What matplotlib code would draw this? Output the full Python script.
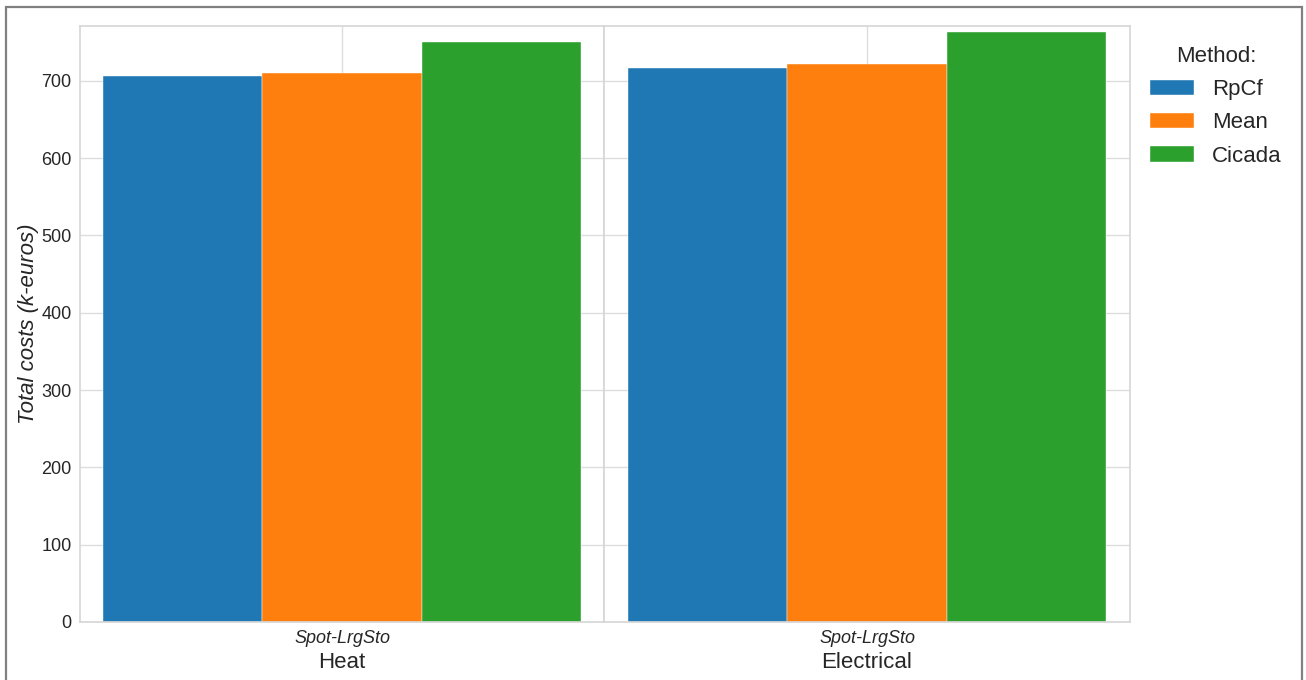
import matplotlib.pyplot as plt
from matplotlib.patches import Rectangle

plt.rcParams['font.family'] = ['Liberation Sans', 'DejaVu Sans']

groups = ['Heat', 'Electrical']
scenario = 'Spot-LrgSto'
methods = ['RpCf', 'Mean', 'Cicada']
colors = ['#1f77b4', '#ff7f0e', '#2ca02c']
costs = {
    'Heat': [706.4, 710.5, 750.3],
    'Electrical': [716.8, 722.0, 763.4],
}
yticks = [0, 100, 200, 300, 400, 500, 600, 700]

fig = plt.figure(figsize=(13.06, 6.8), dpi=100)
ax1 = fig.add_axes([80/1306, 1-622/680, 524/1306, 596/680])
ax2 = fig.add_axes([604/1306, 1-622/680, 526/1306, 596/680], sharey=ax1)

width = 0.3035
offsets = [-width, 0, width]
for ax, g in zip([ax1, ax2], groups):
    ax.set_axisbelow(True)
    for m, c, off, v in zip(methods, colors, offsets, costs[g]):
        ax.bar(0 + off, v, width=width, color=c, label=m, edgecolor='white', linewidth=0.3)
    ax.set_xlim(-0.5, 0.5)
    ax.set_xticks([0])
    ax.set_xticklabels([scenario], fontstyle='italic', fontsize=13, color='#262626')
    ax.set_xlabel(g, fontsize=16, color='#262626', labelpad=3)
    ax.grid(True, color='#dddddd', linewidth=1)
    ax.tick_params(length=0, pad=6, labelsize=13, colors='#262626')
    for s in ax.spines.values():
        s.set_color('#d6d6d6')
        s.set_linewidth(1.2)

ax1.set_ylim(0, 771)
ax1.set_yticks(yticks)
ax1.set_ylabel('Total costs (k-euros)', fontstyle='italic', fontsize=16, color='#262626', labelpad=2)
ax2.tick_params(axis='y', labelleft=False)

leg = ax2.legend(title='Method:', loc='upper left', bbox_to_anchor=(1.0, 1.0), frameon=False,
                 fontsize=16, title_fontsize=16, labelspacing=0.55, handlelength=2.0, handletextpad=0.8)
for t in leg.get_texts():
    t.set_color('#262626')
leg.get_title().set_color('#262626')

fig.patches.append(Rectangle((6/1306, -0.1), 1296/1306, 1.1 - 7/680, transform=fig.transFigure,
                             fill=False, edgecolor='#808080', linewidth=1.6))

fig.savefig('out.png', dpi=100)
